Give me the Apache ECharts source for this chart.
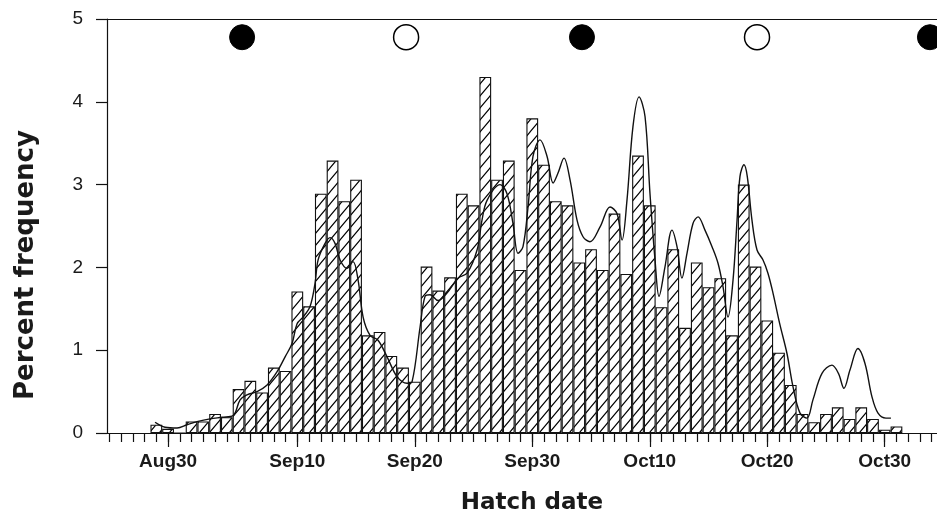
<!DOCTYPE html>
<html>
<head>
<meta charset="utf-8">
<script src="https://cdn.jsdelivr.net/npm/echarts@6/dist/echarts.min.js"></script>
<style>
  html, body { margin: 0; padding: 0; background: #fff; }
  #chart { width: 937px; height: 517px; }
</style>
</head>
<body>
<div id="chart"></div>
<script>
// ---- Data (days counted from Aug 30 = 0) ----
const barStartDay = -1; // first bar is Aug 29
const barValues = [
  0.10, 0.05, 0.00, 0.14, 0.14, 0.23, 0.19, 0.53, 0.63, 0.49,
  0.79, 0.75, 1.71, 1.53, 2.89, 3.29, 2.80, 3.06, 1.18, 1.22,
  0.93, 0.79, 0.62, 2.01, 1.72, 1.88, 2.89, 2.75, 4.30, 3.06,
  3.29, 1.97, 3.80, 3.24, 2.80, 2.75, 2.06, 2.22, 1.97, 2.65,
  1.92, 3.35, 2.75, 1.52, 2.22, 1.27, 2.06, 1.76, 1.87, 1.18,
  3.00, 2.01, 1.36, 0.97, 0.58, 0.23, 0.13, 0.23, 0.31, 0.17,
  0.31, 0.17, 0.04, 0.08
];

const curveDays = [
  -1.11, -0.26, 0.77, 1.62, 2.55, 3.57, 4.60, 5.53, 6.13, 6.72,
  7.57, 8.43, 9.28, 9.96, 10.55, 10.98, 11.49, 12.09, 12.51, 12.77,
  13.36, 13.79, 14.21, 14.64, 15.23, 15.74, 16.17, 16.60, 17.19, 17.87,
  18.64, 19.49, 20.34, 20.77, 21.45, 21.87, 22.30, 22.98, 23.74, 24.68,
  25.45, 26.30, 26.72, 27.15, 28.26, 28.85, 29.36, 29.79, 30.21, 30.64,
  31.06, 31.66, 32.26, 32.77, 33.19, 33.70, 34.21, 34.81, 35.32, 35.91,
  36.77, 37.62, 38.21, 38.64, 39.06, 39.57, 40.09, 40.60, 41.02, 41.45,
  41.79, 42.30, 42.89, 43.32, 43.74, 44.17, 44.68, 45.11, 45.70, 46.30,
  46.81, 47.23, 47.66, 48.09, 48.43, 48.68, 49.02, 49.30, 49.70, 50.13,
  50.64, 51.06, 51.49, 52.06, 52.68, 53.19, 53.79, 54.38, 54.89, 55.66,
  56.51, 57.06, 57.53, 58.04, 58.72, 59.32, 59.91, 60.43, 61.11, 61.53
];
const curveValues = [
  0.13, 0.07, 0.06, 0.10, 0.14, 0.17, 0.19, 0.21, 0.40, 0.46,
  0.50, 0.58, 0.74, 0.92, 1.08, 1.32, 1.40, 1.53, 1.81, 2.09,
  2.29, 2.36, 2.29, 2.09, 1.99, 2.07, 1.85, 1.40, 1.18, 1.12,
  0.92, 0.68, 0.60, 0.62, 1.28, 1.65, 1.67, 1.60, 1.69, 1.87,
  1.93, 2.21, 2.57, 2.81, 3.00, 2.89, 2.53, 2.17, 2.25, 2.73,
  3.34, 3.54, 3.34, 3.02, 3.14, 3.32, 3.06, 2.57, 2.37, 2.31,
  2.49, 2.73, 2.65, 2.33, 2.81, 3.70, 4.06, 3.82, 2.89, 2.09,
  1.65, 2.01, 2.45, 2.25, 1.87, 2.17, 2.53, 2.61, 2.45, 2.25,
  2.05, 1.77, 1.40, 1.85, 2.57, 3.10, 3.24, 3.10, 2.57, 2.21,
  2.09, 1.93, 1.69, 1.32, 0.96, 0.56, 0.24, 0.18, 0.40, 0.72,
  0.82, 0.72, 0.54, 0.76, 1.02, 0.84, 0.44, 0.24, 0.18, 0.18
];

const moonDays = [6.3, 20.26, 35.23, 50.13, 64.85];
const moonPhases = ['new', 'full', 'new', 'full', 'new'];
const moonLevel = 4.78;

const tickDays = [0, 11, 21, 31, 41, 51, 61];
const tickLabels = ['Aug30', 'Sep10', 'Sep20', 'Sep30', 'Oct10', 'Oct20', 'Oct30'];
const yTicks = [0, 1, 2, 3, 4, 5];
const xTitle = 'Hatch date';
const yTitle = 'Percent frequency';

// ---- Layout ----
const X_MIN = -5.2, X_MAX = 65.45;
const GRID = { left: 107, right: 0, top: 19, bottom: 84 };
const W = 937;
const barPx = (W - GRID.left - GRID.right) / (X_MAX - X_MIN);

const allDays = [];
for (let d = Math.ceil(X_MIN); d <= Math.floor(X_MAX); d++) allDays.push(d);

// hatch pattern
const TW = 10, TH = 12;
const pc = document.createElement('canvas');
pc.width = TW; pc.height = TH;
const g = pc.getContext('2d');
g.fillStyle = '#ffffff'; g.fillRect(0, 0, TW, TH);
g.strokeStyle = '#000'; g.lineWidth = 1.15;
g.beginPath();
for (let k = -1; k <= 1; k++) {
  g.moveTo(-2 + k * TW, TH + 2.4); g.lineTo(TW + 2 + k * TW, -2.4);
}
g.stroke();

const barData = barValues.map((v, i) => [barStartDay + i, v]);
const curveData = curveDays.map((d, i) => [d, curveValues[i]]);
const moonData = moonDays.map((d, i) => ({
  value: [d, moonLevel],
  itemStyle: moonPhases[i] === 'new'
    ? { color: '#000', borderColor: '#000', borderWidth: 1, opacity: 1 }
    : { color: '#fff', borderColor: '#000', borderWidth: 1.5, opacity: 1 }
}));

const FONT = 'Liberation Sans, Arial, Helvetica, sans-serif';
const TITLE_FONT = '"DejaVu Sans", Verdana, sans-serif';
const chart = echarts.init(document.getElementById('chart'), null, { renderer: 'canvas' });
chart.setOption({
  animation: false,
  backgroundColor: '#fff',
  grid: GRID,
  graphic: [
    {
      type: 'text', x: 532, y: 503,
      style: { text: xTitle, fontFamily: TITLE_FONT, fontSize: 23, fontWeight: 'bold',
               fill: '#1a1a1a', align: 'center', verticalAlign: 'middle' }
    },
    {
      type: 'text', x: 26, y: 265, rotation: Math.PI / 2,
      style: { text: yTitle, fontFamily: TITLE_FONT, fontSize: 26, fontWeight: 'bold',
               fill: '#1a1a1a', align: 'center', verticalAlign: 'middle' }
    }
  ],
  xAxis: [
    {
      type: 'value', min: X_MIN, max: X_MAX, position: 'bottom',
      axisLine: { show: true, onZero: false, lineStyle: { color: '#111', width: 1.2 } },
      axisTick: { show: true, customValues: allDays, length: 9, lineStyle: { color: '#111', width: 1.2 } },
      axisLabel: { show: false },
      splitLine: { show: false }
    },
    {
      type: 'value', min: X_MIN, max: X_MAX, position: 'bottom',
      axisLine: { show: false, onZero: false },
      axisTick: { show: true, customValues: tickDays, length: 14, lineStyle: { color: '#111', width: 1.2 } },
      axisLabel: {
        show: true, customValues: tickDays, margin: 19,
        fontFamily: FONT, fontSize: 19, fontWeight: 'bold', color: '#1a1a1a',
        formatter: v => { const k = tickDays.indexOf(Math.round(v)); return k >= 0 ? tickLabels[k] : ''; }
      },
      splitLine: { show: false }
    },
    {
      type: 'value', min: X_MIN, max: X_MAX, position: 'top',
      axisLine: { show: true, onZero: false, lineStyle: { color: '#111', width: 1.2 } },
      axisTick: { show: false }, axisLabel: { show: false }, splitLine: { show: false }
    }
  ],
  yAxis: {
    type: 'value', min: 0, max: 5, interval: 1,
    axisLine: { show: true, onZero: false, lineStyle: { color: '#111', width: 1.2 } },
    axisTick: { show: true, length: 11, lineStyle: { color: '#111', width: 1.2 } },
    axisLabel: {
      margin: 24, fontFamily: FONT, fontSize: 19, color: '#1a1a1a',
      customValues: yTicks
    },
    splitLine: { show: false }
  },
  series: [
    {
      type: 'bar', xAxisIndex: 0, data: barData, barWidth: barPx,
      itemStyle: { color: { image: pc, repeat: 'repeat' }, borderColor: '#111', borderWidth: 1.1 },
      z: 2
    },
    {
      type: 'line', xAxisIndex: 0, data: curveData, smooth: 0.35, showSymbol: false,
      lineStyle: { color: '#111', width: 1.4 }, z: 3
    },
    {
      type: 'scatter', xAxisIndex: 0, data: moonData, symbol: 'circle', symbolSize: 25,
      z: 4, clip: false
    }
  ]
});
</script>
</body>
</html>
